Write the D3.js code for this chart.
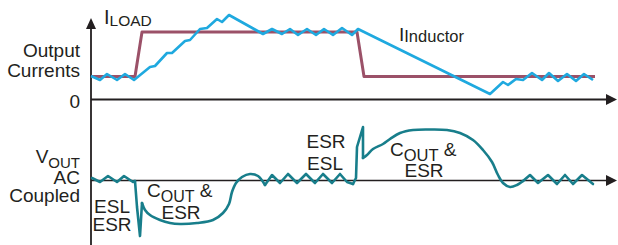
<!DOCTYPE html>
<html>
<head>
<meta charset="utf-8">
<script src="https://cdn.jsdelivr.net/npm/d3@7"></script>
<style>
  body { margin: 0; background: #fff; }
  text { font-family: "Liberation Sans", Arial, sans-serif; fill: #231f20; }
</style>
</head>
<body>
<div id="chart"></div>
<script>
// time in arbitrary ticks, currents / voltages in arbitrary amplitude units
const iLoad = [[0,23.5],[44,23.5],[51,68],[266,68],[273,23.5],[504,23.5]]

const iInductor = [
  [0,24],[9,20],[16,26],[26,20],[34,26],[43,20],
  [59,33],[64,34],[76,47],[81,47],[94,59],[99,60],[109,71],[116,72],[126,81],[131,78],[138,85],
  [172,66],[181,71],[191,66],[199,71],[207,65],[216,71],[225,65],[233,71],[242,65],[251,72],[261,65],[267,71],
  [399,6],[412,18],[417,15],[425,21],[432,20],[441,27],[451,20],[458,27],[467,19],[476,26],[485,19],[493,26],[502,20]
]

// Vout pieces: ripple and spikes are straight, recoveries are smooth
const vRippleA = [[1,2],[9,-2],[17,4],[26,-2],[33,4],[42,-2],[44,-1]]
const vSpikeDown = [[44,-1],[46,-27],[49,-56],[51,-23]]
const vRecovery = [[51,-23],[54,-30],[59,-35],[69,-40],[79,-43],[89,-44],[106,-43],[122,-40],[132,-33],
  [138,-24],[141,-12],[145,-3],[151,3],[159,6],[167,4],[174,-5]]
const vRippleB = [[174,-5],[181,5],[189,-3],[197,6],[206,-3],[215,6],[224,-3],[232,6],[241,-3],[249,6],[256,-2],[262,-4]]
const vSpikeUp = [[262,-4],[265,2],[266,33],[272,53],[272,22]]
const vOvershoot = [[272,22],[276,25],[282,31],[292,36],[299,41],[309,47],[322,50],[339,50.5],[356,50],
  [369,47],[382,40],[392,30],[401,18],[407,5],[412,-3],[419,-7],[426,-5],[432,-1]]
const vRippleC = [[432,-1],[439,5],[447,-3],[457,5],[466,-4],[474,5],[482,-4],[491,5],[502,-4]]

const width = 618, height = 245

var x = d3.scaleLinear().domain([0, 527]).range([91, 618])
var yI = d3.scaleLinear().domain([0, 82]).range([100, 18])
var yV = d3.scaleLinear().domain([-65, 65]).range([245, 115])

var svg = d3.select("#chart").append("svg")
  .attr("width", width)
  .attr("height", height)

const lineI = d3.line().x(d => x(d[0])).y(d => yI(d[1]))
const lineV = d3.line().x(d => x(d[0])).y(d => yV(d[1]))
const smoothV = d3.line().x(d => x(d[0])).y(d => yV(d[1])).curve(d3.curveCatmullRom.alpha(0.5))

// axes
const axisColor = "#231f20"
svg.append("line")
  .attr("x1", x(0)).attr("x2", x(0))
  .attr("y1", yI(80)).attr("y2", height)
  .attr("stroke", axisColor).attr("stroke-width", 1.8)
svg.append("path")
  .attr("d", `M${x(0)},${yI(82)} L${x(0)-5},${yI(71)} L${x(0)+5},${yI(71)} Z`)
  .attr("fill", axisColor)

const hAxis = (yPos, w) => {
  svg.append("line")
    .attr("x1", x(0)).attr("x2", x(518))
    .attr("y1", yPos).attr("y2", yPos)
    .attr("stroke", axisColor).attr("stroke-width", w)
  svg.append("path")
    .attr("d", `M${x(526)},${yPos} L${x(515)},${yPos-5.5} L${x(515)},${yPos+5.5} Z`)
    .attr("fill", axisColor)
}
hAxis(yI(0) - 0.5, 1.8)
hAxis(yV(0) + 0.5, 1.5)

// current waveforms
svg.append("path").datum(iLoad)
  .attr("d", lineI).attr("fill", "none")
  .attr("stroke", "#9b5168").attr("stroke-width", 3)
  .attr("stroke-linejoin", "round")
svg.append("path").datum(iInductor)
  .attr("d", lineI).attr("fill", "none")
  .attr("stroke", "#1fa9df").attr("stroke-width", 2.6)
  .attr("stroke-linejoin", "round")

// output voltage
const teal = "#187e8b"
;[vRippleA, vSpikeDown, vRippleB, vSpikeUp, vRippleC].forEach(seg => {
  svg.append("path").datum(seg)
    .attr("d", lineV).attr("fill", "none")
    .attr("stroke", teal).attr("stroke-width", 2.6)
    .attr("stroke-linejoin", "round").attr("stroke-linecap", "round")
})
;[vRecovery, vOvershoot].forEach(seg => {
  svg.append("path").datum(seg)
    .attr("d", smoothV).attr("fill", "none")
    .attr("stroke", teal).attr("stroke-width", 2.6)
    .attr("stroke-linecap", "round")
})

// labels
const label = (txt, tx, ty, anchor, size) =>
  svg.append("text").attr("x", tx).attr("y", ty)
    .attr("text-anchor", anchor || "start")
    .style("font-size", (size || 19) + "px")
    .text(txt)

label("Output", 80, 57, "end")
label("Currents", 80, 77, "end")
label("0", 80, 108, "end")
label("AC", 80, 184, "end")
label("Coupled", 80, 202, "end")

const sub = (main, s, tx, ty, anchor, mainSize, subSize, dy, tail) => {
  const t = svg.append("text").attr("x", tx).attr("y", ty)
    .attr("text-anchor", anchor || "start")
  t.append("tspan").style("font-size", mainSize + "px").text(main)
  t.append("tspan").style("font-size", subSize + "px").attr("dy", dy).text(s)
  if (tail) t.append("tspan").style("font-size", mainSize + "px").attr("dy", -dy).text(tail)
  return t
}
sub("I", "LOAD", 104, 24, "start", 20, 15.5, 2)
sub("I", "Inductor", 399, 40.5, "start", 19, 16.5, 1.5)
sub("V", "OUT", 80, 163, "end", 19, 15, 4.5)

label("ESL", 112, 213, "middle")
label("ESR", 112, 231, "middle")
sub("C", "OUT", 147, 197, "start", 19, 16, 5, " &")
label("ESR", 181, 219, "middle")

label("ESR", 326, 148, "middle")
label("ESL", 325, 170, "middle")
sub("C", "OUT", 390, 156, "start", 19, 16.5, 4.5, " &")
label("ESR", 424, 177, "middle")
</script>
</body>
</html>
